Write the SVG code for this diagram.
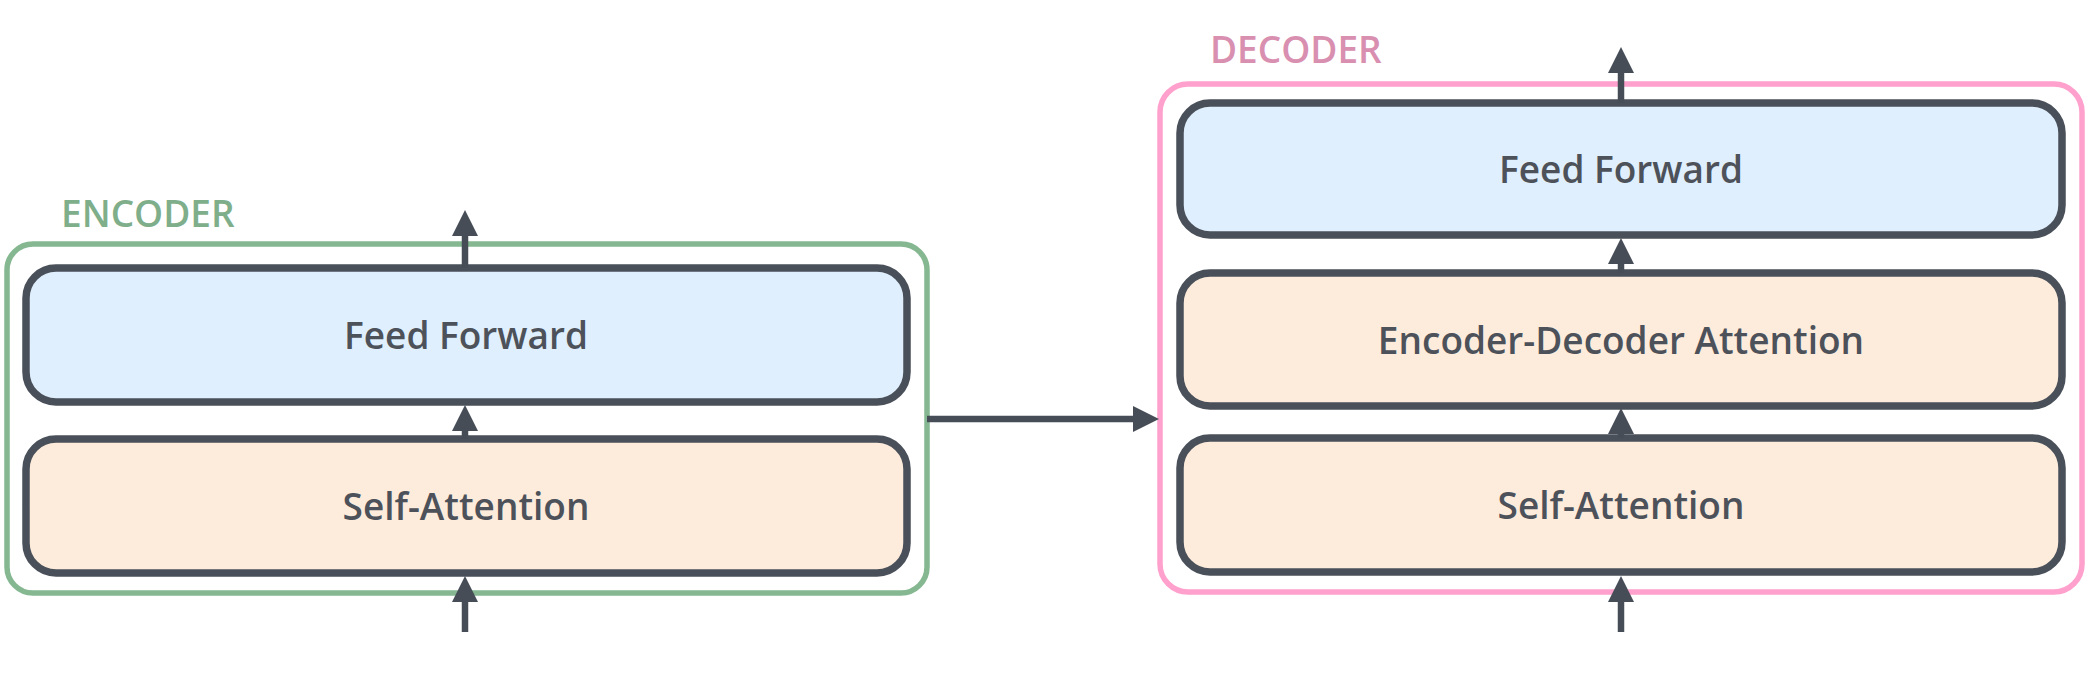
<svg xmlns="http://www.w3.org/2000/svg" width="2090" height="674" viewBox="0 0 2090 674">
  <defs>
    <marker id="arrow" viewBox="0 0 26 26" refX="12" refY="13" markerWidth="26" markerHeight="26" markerUnits="userSpaceOnUse" orient="auto">
      <path d="M0,0 L26,13 L0,26 z" fill="#464d57"/>
    </marker>
    <style>
      .box { stroke: #4a5059; stroke-width: 7.5; }
      .ff { fill: #dfeffd; }
      .att { fill: #fdecdc; }
      .lbl { font-family: "Open Sans", "Noto Sans", sans-serif; font-weight: 600; font-size: 37px; fill: #4d525a; text-anchor: middle; dominant-baseline: central; }
      .title { font-family: "Open Sans", "Noto Sans", sans-serif; font-weight: 600; font-size: 37px; }
      .conn { stroke: #464d57; stroke-width: 6.5; fill: none; marker-end: url(#arrow); }
    </style>
  </defs>
  <rect width="2090" height="674" fill="#ffffff"/>

  <g id="encoder">
    <rect x="7" y="244" width="920" height="349" rx="26" fill="none" stroke="#85b891" stroke-width="5.5"/>
    <text class="title" x="61" y="227" fill="#7fae8a">ENCODER</text>
  </g>
  <g id="enc-ff">
    <rect class="box ff" x="26" y="268" width="881" height="134" rx="30"/>
    <text class="lbl" x="466" y="334">Feed Forward</text>
  </g>
  <g id="enc-sa">
    <rect class="box att" x="26" y="439" width="881" height="134" rx="30"/>
    <text class="lbl" x="466" y="505">Self-Attention</text>
  </g>

  <g id="decoder">
    <rect x="1160" y="84" width="922" height="508" rx="28" fill="none" stroke="#ffa0cd" stroke-width="5.5"/>
    <text class="title" x="1210" y="63" fill="#d98fb0">DECODER</text>
  </g>
  <g id="dec-ff">
    <rect class="box ff" x="1180" y="103" width="882" height="132" rx="30"/>
    <text class="lbl" x="1621" y="168">Feed Forward</text>
  </g>
  <g id="dec-eda">
    <rect class="box att" x="1180" y="273" width="882" height="133" rx="30"/>
    <text class="lbl" x="1621" y="339">Encoder-Decoder Attention</text>
  </g>
  <g id="dec-sa">
    <rect class="box att" x="1180" y="438" width="882" height="134" rx="30"/>
    <text class="lbl" x="1621" y="504">Self-Attention</text>
  </g>

  <g id="connectors">
    <line class="conn" x1="465" y1="632" x2="465" y2="590"/>
    <line class="conn" x1="465" y1="439" x2="465" y2="419"/>
    <line class="conn" x1="465" y1="268" x2="465" y2="224"/>
    <line class="conn" x1="927" y1="419" x2="1145" y2="419"/>
    <line class="conn" x1="1621" y1="632" x2="1621" y2="590"/>
    <line class="conn" x1="1621" y1="438" x2="1621" y2="422"/>
    <line class="conn" x1="1621" y1="273" x2="1621" y2="252"/>
    <line class="conn" x1="1621" y1="103" x2="1621" y2="61"/>
  </g>
</svg>
